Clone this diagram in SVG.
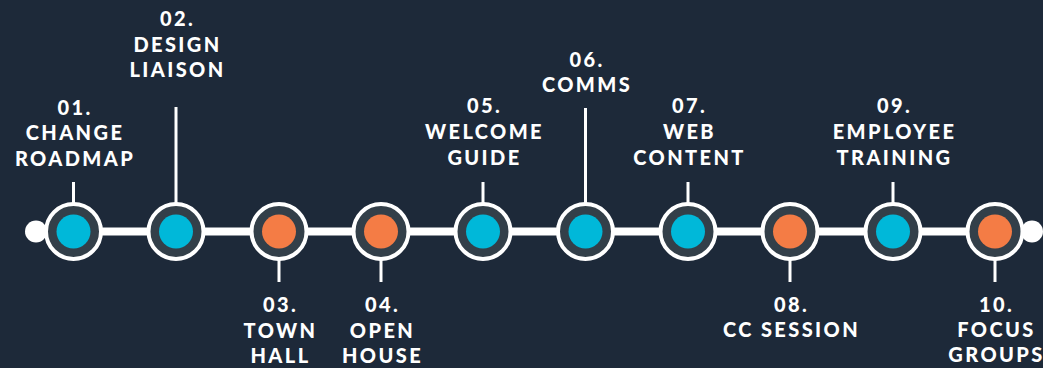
<svg xmlns="http://www.w3.org/2000/svg" width="1043" height="368" viewBox="0 0 1043 368">
  <style>
    .lbl { font-family: Lato, "Noto Sans", sans-serif; font-weight: 900; font-size: 20px; letter-spacing: 2.4px; fill: #ffffff; text-anchor: middle; }
    .ring { fill: #333f49; stroke: #ffffff; stroke-width: 4; }
    .blue { fill: #00b8d9; }
    .orange { fill: #f47c45; }
    .stem { stroke: #ffffff; stroke-width: 3; fill: none; }
    .track { stroke: #ffffff; stroke-width: 8; }
  </style>
  <rect width="1043" height="368" fill="#1d2939"/>

  <!-- timeline track, end caps and label stems -->
  <g id="connectors">
    <line class="track" x1="36" y1="231.5" x2="1032" y2="231.5"/>
    <circle cx="36" cy="231.5" r="11" fill="#ffffff"/>
    <circle cx="1032" cy="231.5" r="11" fill="#ffffff"/>
    <line class="stem" x1="73.5" y1="182" x2="73.5" y2="204"/>
    <line class="stem" x1="176" y1="107" x2="176" y2="204"/>
    <line class="stem" x1="279" y1="259" x2="279" y2="282"/>
    <line class="stem" x1="381" y1="259" x2="381" y2="282"/>
    <line class="stem" x1="483" y1="182" x2="483" y2="204"/>
    <line class="stem" x1="585.5" y1="108" x2="585.5" y2="204"/>
    <line class="stem" x1="688" y1="182" x2="688" y2="204"/>
    <line class="stem" x1="790" y1="259" x2="790" y2="282"/>
    <line class="stem" x1="893" y1="182" x2="893" y2="204"/>
    <line class="stem" x1="995" y1="259" x2="995" y2="282"/>
  </g>

  <g id="node-01">
    <circle class="ring" cx="73.5" cy="231.5" r="27.5"/>
    <circle class="blue" cx="73.5" cy="231.5" r="17"/>
    <text class="lbl" x="75" y="115">01.</text>
    <text class="lbl" x="75" y="140">CHANGE</text>
    <text class="lbl" x="75" y="166">ROADMAP</text>
  </g>
  <g id="node-02">
    <circle class="ring" cx="176" cy="231.5" r="27.5"/>
    <circle class="blue" cx="176" cy="231.5" r="17"/>
    <text class="lbl" x="177.5" y="26">02.</text>
    <text class="lbl" x="177.5" y="52">DESIGN</text>
    <text class="lbl" x="177.5" y="77">LIAISON</text>
  </g>
  <g id="node-03">
    <circle class="ring" cx="279" cy="231.5" r="27.5"/>
    <circle class="orange" cx="279" cy="231.5" r="17"/>
    <text class="lbl" x="280.5" y="312">03.</text>
    <text class="lbl" x="280.5" y="338">TOWN</text>
    <text class="lbl" x="280.5" y="363">HALL</text>
  </g>
  <g id="node-04">
    <circle class="ring" cx="381" cy="231.5" r="27.5"/>
    <circle class="orange" cx="381" cy="231.5" r="17"/>
    <text class="lbl" x="382.5" y="312">04.</text>
    <text class="lbl" x="382.5" y="338">OPEN</text>
    <text class="lbl" x="382.5" y="363">HOUSE</text>
  </g>
  <g id="node-05">
    <circle class="ring" cx="483" cy="231.5" r="27.5"/>
    <circle class="blue" cx="483" cy="231.5" r="17"/>
    <text class="lbl" x="484.5" y="113">05.</text>
    <text class="lbl" x="484.5" y="139">WELCOME</text>
    <text class="lbl" x="484.5" y="165">GUIDE</text>
  </g>
  <g id="node-06">
    <circle class="ring" cx="585.5" cy="231.5" r="27.5"/>
    <circle class="blue" cx="585.5" cy="231.5" r="17"/>
    <text class="lbl" x="587" y="67">06.</text>
    <text class="lbl" x="587" y="92">COMMS</text>
  </g>
  <g id="node-07">
    <circle class="ring" cx="688" cy="231.5" r="27.5"/>
    <circle class="blue" cx="688" cy="231.5" r="17"/>
    <text class="lbl" x="689.5" y="113">07.</text>
    <text class="lbl" x="689.5" y="139">WEB</text>
    <text class="lbl" x="689.5" y="165">CONTENT</text>
  </g>
  <g id="node-08">
    <circle class="ring" cx="790" cy="231.5" r="27.5"/>
    <circle class="orange" cx="790" cy="231.5" r="17"/>
    <text class="lbl" x="791.5" y="312">08.</text>
    <text class="lbl" x="791.5" y="337">CC SESSION</text>
  </g>
  <g id="node-09">
    <circle class="ring" cx="893" cy="231.5" r="27.5"/>
    <circle class="blue" cx="893" cy="231.5" r="17"/>
    <text class="lbl" x="894.5" y="113">09.</text>
    <text class="lbl" x="894.5" y="139">EMPLOYEE</text>
    <text class="lbl" x="894.5" y="165">TRAINING</text>
  </g>
  <g id="node-10">
    <circle class="ring" cx="995" cy="231.5" r="27.5"/>
    <circle class="orange" cx="995" cy="231.5" r="17"/>
    <text class="lbl" x="996.5" y="312">10.</text>
    <text class="lbl" x="996.5" y="337">FOCUS</text>
    <text class="lbl" x="996.5" y="362">GROUPS</text>
  </g>
</svg>
